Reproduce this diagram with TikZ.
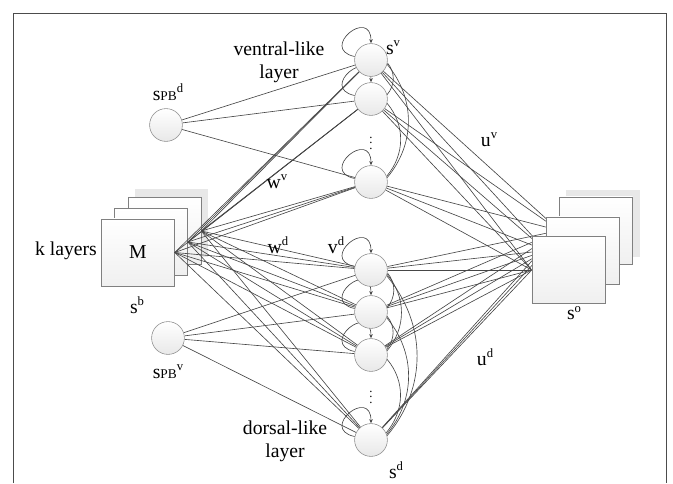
\documentclass[tikz,border=0pt]{standalone}
\usepackage{fontspec}
\setmainfont{Liberation Serif}
\usetikzlibrary{arrows.meta,backgrounds}
\newcommand{\up}[1]{\raisebox{5.5pt}{\fontsize{9}{9}\selectfont #1}}
\newcommand{\pb}{{\fontsize{9.5}{9.5}\selectfont PB}}
\tikzset{
  neuron/.style={circle, draw=gray!90, top color=white, bottom color=gray!18, minimum size=0.82cm, inner sep=0pt},
  layerbox/.style={rectangle, draw=gray, top color=white, bottom color=gray!12, minimum width=1.825cm, minimum height=1.675cm, inner sep=0pt},
  shadebox/.style={rectangle, fill=gray!18, minimum width=1.825cm, minimum height=1.675cm, inner sep=0pt},
  link/.style={draw=gray!55!black, line width=0.45pt},
  selfloop/.style={link, -{Stealth[length=3pt,width=2.5pt]}, looseness=4.5},
}
\begin{document}
\begin{tikzpicture}[x=0.025cm, y=0.025cm, font=\fontsize{14}{16.5}\selectfont]
\useasboundingbox (0,0) rectangle (673,483);
\draw[gray!60!black, line width=0.6pt] (13,0) -- (13,470) -- (666,470) -- (666,0);
% ventral and dorsal units
\node[neuron] (v1) at (371,423){};
\node[neuron] (v2) at (371,384){};
\node[neuron] (v3) at (371,301){};
\node[neuron] (d1) at (371,213){};
\node[neuron] (d2) at (371,171){};
\node[neuron] (d3) at (371,128){};
\node[neuron] (d4) at (371,43){};
\node[font=\fontsize{9}{9}\selectfont, inner sep=0pt] (vdots) at (371,344){$\vdots$};
\node[font=\fontsize{9}{9}\selectfont, inner sep=0pt] (ddots) at (371,90){$\vdots$};
% parametric bias units
\node[neuron] (pbd) at (166,358){};
\node[neuron] (pbv) at (168,145){};
% output stack
\node[shadebox] (rshade) at (603,259.5){};
\node[layerbox] (rback) at (596,252.5){};
\node[layerbox] (rmid) at (582.5,232.5){};
\node[layerbox] (rfront) at (568.5,213){};
% labels
\node[align=center] (vlab) at (279,421){ventral-like\\layer};
\node[align=center] (dlab) at (285,42){dorsal-like\\layer};
\node (sv) at (393,435){s\up{v}};
\node[inner sep=1pt] (sd) at (396,13){s\up{d}};
\node (spbd) at (168,391){s\pb\up{d}};
\node (spbv) at (168,111){s\pb\up{v}};
\node (sb) at (137,178){s\up{b}};
\node (so) at (574,170){s\up{o}};
\node (kl) at (66,232){k layers};
\node (wv) at (277,301){w\up{v}};
\node (wd) at (278,238){w\up{d}};
\node (vd) at (336,238){v\up{d}};
\node (uv) at (489,343){u\up{v}};
\node (ud) at (485,126){u\up{d}};
\begin{pgfonlayer}{background}
% input stack
\node[shadebox] (lshade) at (171.5,260){};
\node[layerbox] (lback) at (164.5,252){};
\node[layerbox] (lmid) at (151,241){};
\node[layerbox] (lfront) at (138,230.5){M};
% input to units
\draw[link] (lfront.east) -- (v1);
\draw[link] (lfront.east) -- (v2);
\draw[link] (lfront.east) -- (v3);
\draw[link] (lfront.east) -- (d1);
\draw[link] (lfront.east) -- (d2);
\draw[link] (lfront.east) -- (d3);
\draw[link] (lfront.east) -- (d4);
\draw[link] (lmid.east) -- (v1);
\draw[link] (lmid.east) -- (v2);
\draw[link] (lmid.east) -- (v3);
\draw[link] (lmid.east) -- (d1);
\draw[link] (lmid.east) -- (d2);
\draw[link] (lmid.east) -- (d3);
\draw[link] (lmid.east) -- (d4);
\draw[link] (lback.east) -- (v1);
\draw[link] (lback.east) -- (v2);
\draw[link] (lback.east) -- (v3);
\draw[link] (lback.east) -- (d1);
\draw[link] (lback.east) -- (d2);
\draw[link] (lback.east) -- (d3);
\draw[link] (lback.east) -- (d4);
\draw[link] (pbd) -- (v1);
\draw[link] (pbd) -- (v2);
\draw[link] (pbd) -- (v3);
\draw[link] (pbv) -- (d1);
\draw[link] (pbv) -- (d2);
\draw[link] (pbv) -- (d3);
\draw[link] (pbv) -- (d4);
% units to output
\draw[link] (v1) -- (rback.west);
\draw[link] (v1) -- (rmid.west);
\draw[link] (v1) -- (rfront.west);
\draw[link] (v2) -- (rback.west);
\draw[link] (v2) -- (rmid.west);
\draw[link] (v2) -- (rfront.west);
\draw[link] (v3) -- (rback.west);
\draw[link] (v3) -- (rmid.west);
\draw[link] (v3) -- (rfront.west);
\draw[link] (d1) -- (rback.west);
\draw[link] (d1) -- (rmid.west);
\draw[link] (d1) -- (rfront.west);
\draw[link] (d2) -- (rback.west);
\draw[link] (d2) -- (rmid.west);
\draw[link] (d2) -- (rfront.west);
\draw[link] (d3) -- (rback.west);
\draw[link] (d3) -- (rmid.west);
\draw[link] (d3) -- (rfront.west);
\draw[link] (d4) -- (rback.west);
\draw[link] (d4) -- (rmid.west);
\draw[link] (d4) -- (rfront.west);
% recurrent links
\draw[link] (v1.-10) to[out=-50,in=50] (v2.15);
\draw[link] (v1.-15) to[out=-50,in=50] (v3.15);
\draw[link] (v2.-15) to[out=-50,in=50] (v3.20);
\draw[link] (d1.-10) to[out=-50,in=50] (d2.15);
\draw[link] (d1.-15) to[out=-50,in=50] (d3.15);
\draw[link] (d1.-20) to[out=-50,in=50] (d4.15);
\draw[link] (d2.-15) to[out=-50,in=50] (d3.20);
\draw[link] (d2.-20) to[out=-50,in=50] (d4.20);
\draw[link] (d3.-15) to[out=-50,in=50] (d4.25);
% self loops
\draw[selfloop] (v1) to[out=168,in=90] (v1);
\draw[selfloop] (v2) to[out=168,in=90] (v2);
\draw[selfloop] (v3) to[out=168,in=90] (v3);
\draw[selfloop] (d1) to[out=168,in=90] (d1);
\draw[selfloop] (d2) to[out=168,in=90] (d2);
\draw[selfloop] (d3) to[out=168,in=90] (d3);
\draw[selfloop] (d4) to[out=168,in=90] (d4);
\end{pgfonlayer}
\end{tikzpicture}
\end{document}
